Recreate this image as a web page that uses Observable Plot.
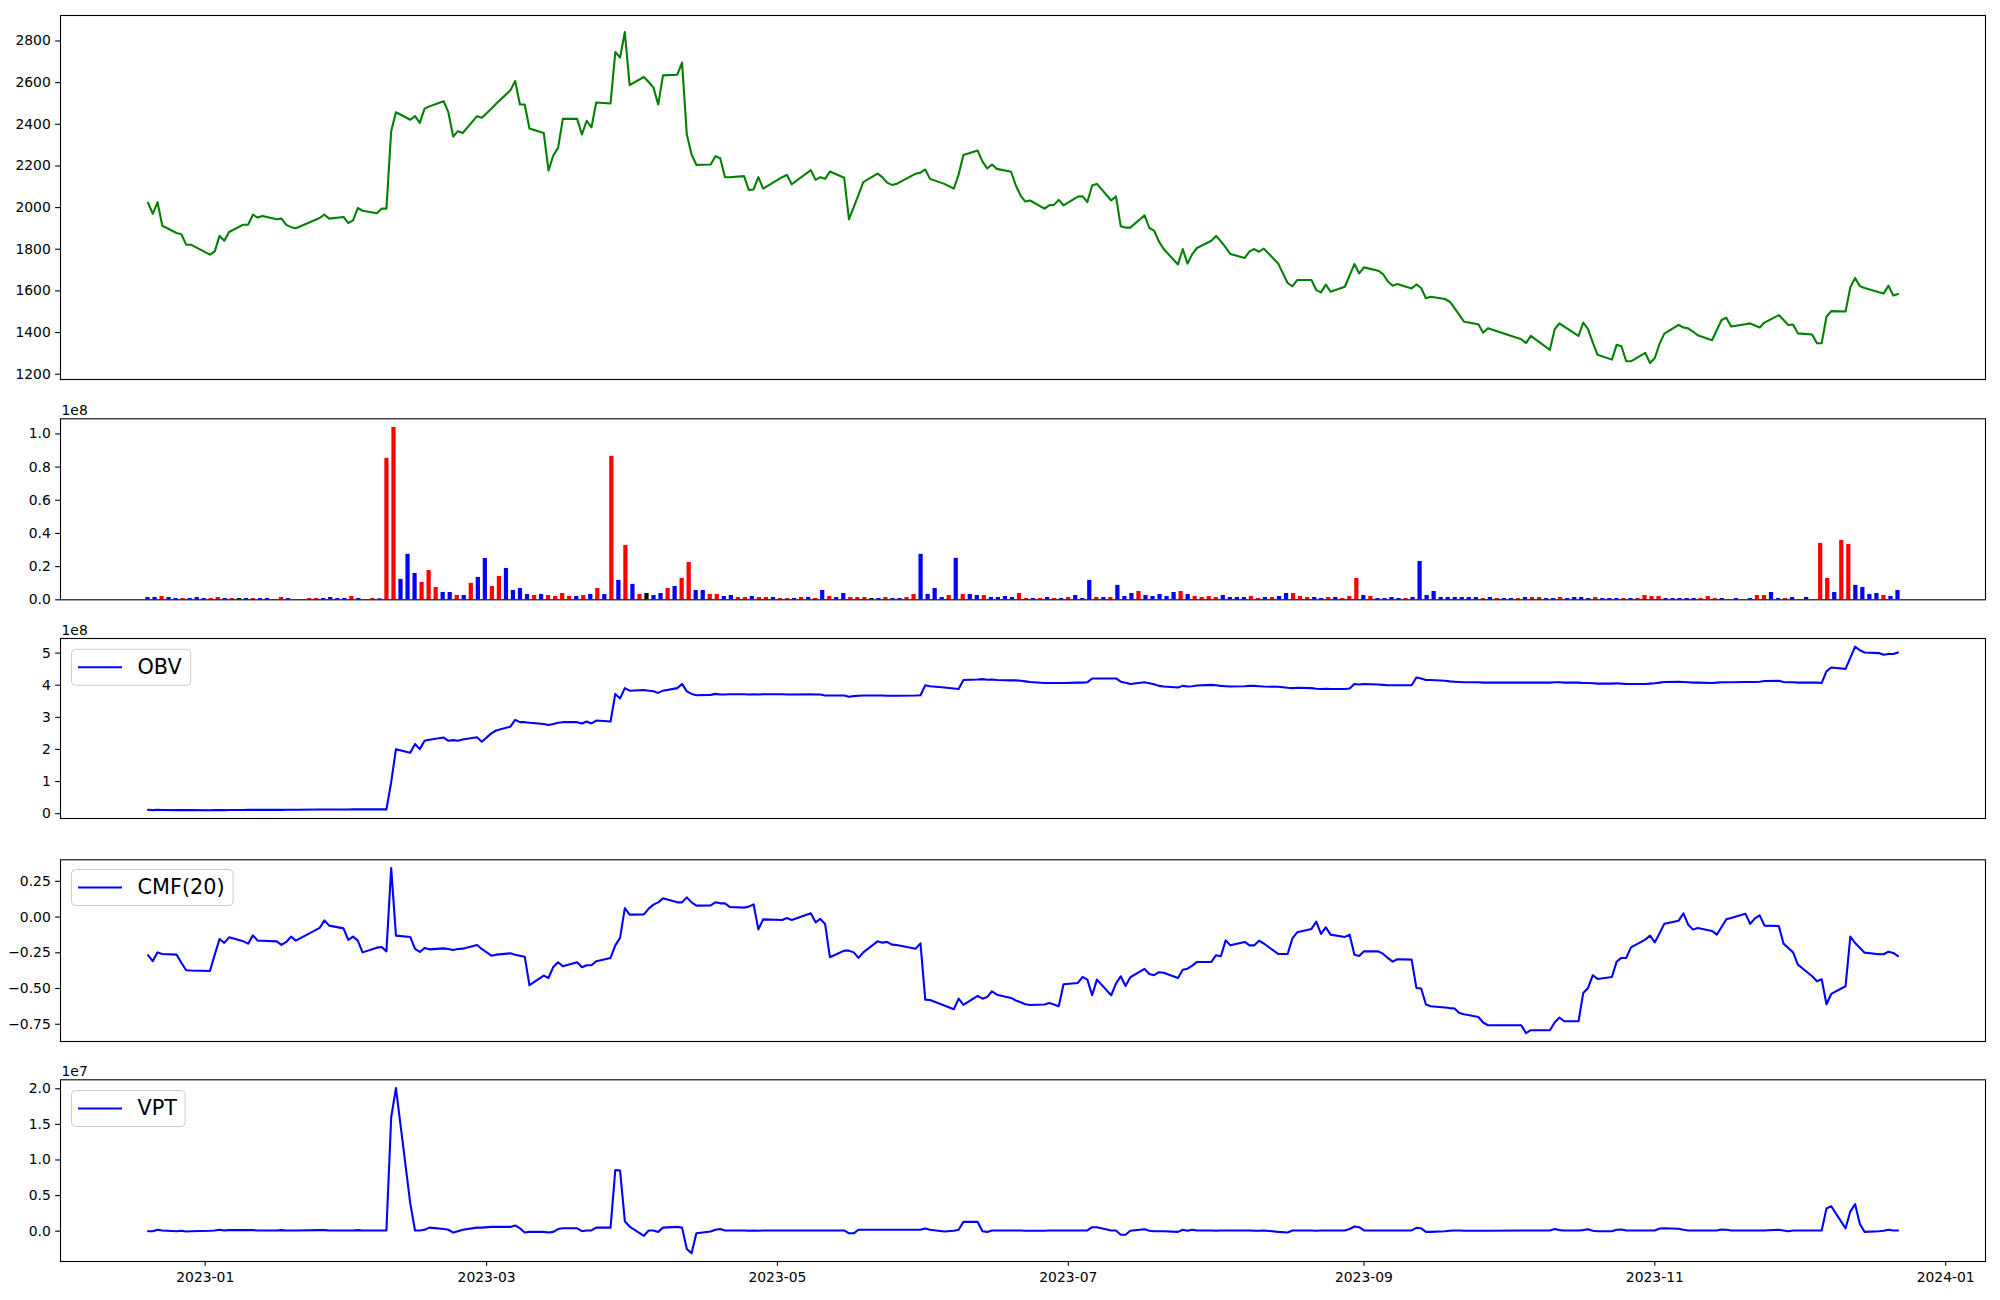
<!DOCTYPE html>
<html>
<head>
<meta charset="utf-8">
<script src="https://cdn.jsdelivr.net/npm/d3@7"></script>
<script src="https://cdn.jsdelivr.net/npm/@observablehq/plot@0.6"></script>
<style>
html, body { margin: 0; padding: 0; background: #ffffff; }
#fig { position: relative; width: 2000px; height: 1300px; overflow: hidden; background: #ffffff; font-family: "DejaVu Sans", sans-serif; }
</style>
</head>
<body>
<div id="fig"></div>
<script>
// ---------- DATA ----------
// Trading days (month, day numbers)
const tradingDays = [
  ["2022-12", [20,21,22,23,26,27,28,29]],
  ["2023-01", [2,3,4,5,6,9,10,11,12,13,16,17,18,19,20,25,26,27,30,31]],
  ["2023-02", [1,2,3,6,7,8,9,10,13,14,15,16,17,20,21,22,23,24,27,28]],
  ["2023-03", [2,3,6,7,8,9,10,13,14,15,16,17,20,21,22,23,24,27,28,29,30,31]],
  ["2023-04", [3,4,5,6,7,10,11,12,13,14,17,18,19,20,21,24,25,26,27,28]],
  ["2023-05", [2,3,4,8,9,10,11,12,15,16,17,18,19,22,23,24,25,26,30,31]],
  ["2023-06", [1,2,5,7,8,9,12,13,14,15,16,19,20,21,22,23,26,27,28,29,30]],
  ["2023-07", [3,4,5,6,7,10,11,12,13,14,17,18,19,20,21,24,25,26,27,28,31]],
  ["2023-08", [1,2,3,4,7,8,9,10,11,14,16,17,18,21,22,23,24,25,28,29,30,31]],
  ["2023-09", [1,4,5,6,7,8,11,12,13,14,15,18,19,20,21,22,25,26,27]],
  ["2023-10", [4,5,6,10,11,12,13,16,17,18,19,20,23,24,25,26,27,30,31]],
  ["2023-11", [1,2,3,6,7,8,9,10,13,14,15,16,17,20,21,22,23,24,27,28,29,30]],
  ["2023-12", [1,4,5,6,7,8,11,12,13,14,15,18,19,20,21,22]]
];

const price = [
2024,1970,2026,1913,1878,1872,1822,1822,
1774,1790,1864,1841,1883, 1918,1918,1966,1952,1960, 1944,1947,1917,1906,1901, 1950,1966,1947, 1955,1925,
1939,1998,1985, 1973,1995,1995,2367,2458, 2422,2439,2407,2475,2486, 2511,2457,2341,2367,2358, 2439,2431,
2475,2499, 2563,2608,2495,2495,2380, 2358,2178,2250,2287,2426, 2426,2351,2417,2385,2505, 2500,2747,2720,2843,2588,
2627,2603,2576,2495,2635, 2638,2696,2351,2255,2205, 2207,2247,2237,2146,2146, 2151,2085,2087,2146,2091,
2146,2157,2112, 2180,2133,2146,2138,2173, 2143,1944,2002,2061,2122, 2163,2146,2120,2109,2114, 2163,2168,
2183,2138, 2114,2091,2159,2253, 2274,2221,2188,2207,2186, 2172,2106,2058,2029,2034, 1995,2011,2013,2037,2011,
2053,2054,2027,2106,2114, 2034,2054,1910,1904,1904, 1963,1902,1889,1838,1801, 1727,1801,1731,1777,1806, 1841,
1864,1838,1809,1777, 1758,1790,1801,1788,1803, 1732,1638,1622,1652, 1652,1604,1593,1630,1596, 1620,1675,1729,1684,
1713, 1697,1681,1646,1625,1633, 1612,1631,1614,1565,1572, 1561,1548,1517,1485,1452, 1440,1399,1421,
1368,1349,1384, 1317,1416,1444,1429, 1384,1448,1416,1352,1293, 1270,1341,1334,1262,1262, 1302,1254,
1278,1347,1395, 1437,1424,1420,1405,1387, 1363,1412,1460,1471,1429, 1440,1444,1434,1424,1448, 1484,1460,1436,1439,
1396, 1391,1349,1349,1476,1503, 1501,1617,1662,1623,1614, 1593,1588,1625,1578,1585
];

// Volume in millions of shares
const volume = [
1.4,1.4,2.0,1.4,0.8,0.8,0.8,1.4,
0.8,0.8,1.4,0.8,0.8, 0.8,0.8,0.8,0.8,0.8, 0.1,1.4,0.8,0.1,0.1, 0.8,0.8,0.8, 1.4,0.8,
0.8,2.0,0.8, 0.1,0.8,0.6,85.3,103.9, 12.3,27.4,15.9,10.5,17.7, 7.4,4.4,4.4,2.6,2.6, 9.9,13.5,
24.9,8.0, 14.1,18.9,5.6,6.8,3.2, 2.6,3.2,2.6,2.0,3.8, 2.0,2.0,2.6,3.2,6.8, 3.2,86.5,11.7,32.8,9.3,
3.2,3.8,2.6,3.8,6.8, 8.0,12.9,22.5,5.6,5.6, 3.2,3.2,2.0,2.6,1.4, 1.4,2.0,1.4,1.4,1.4,
0.8,0.8,0.8, 1.4,1.4,0.8,5.6,2.0, 1.4,3.8,1.4,1.4,1.4, 0.8,0.8,1.4,0.8,0.8, 1.4,3.2,
27.4,3.2, 6.8,1.4,2.6,25.0, 3.2,3.2,2.6,2.6,1.4, 1.4,2.0,1.4,3.8,0.8, 0.8,0.8,1.4,0.8,0.8,
1.4,2.6,0.8,11.7,1.4, 1.4,1.4,8.7,2.0,3.8, 5.0,2.6,2.0,3.2,2.0, 4.4,5.0,3.2,2.0,1.4, 2.0,
1.4,2.6,1.4,1.4, 1.4,2.0,0.8,1.4,1.4, 2.0,3.8,3.8,2.0, 1.4,1.4,0.8,1.4,1.4, 0.8,2.0,12.9,2.6,
2.0, 0.8,0.8,1.4,0.8,0.8, 1.4,23.1,2.6,5.0,1.4, 1.4,1.4,1.4,1.4,1.4, 0.8,1.4,0.8,
0.8,0.8,0.8, 1.4,1.4,1.4,0.8, 0.8,1.4,0.8,1.4,1.4, 0.8,1.4,0.8,0.8,0.8, 0.8,0.8,
0.8,2.6,2.0, 2.0,0.8,0.8,0.8,0.8, 0.8,0.8,2.0,0.8,0.8, 0.1,0.8,0.1,0.8,2.6, 2.6,4.4,0.8,0.8,
1.4, 0.1,1.4,0.1,34.0,12.9, 4.4,35.8,33.4,8.7,7.4, 3.2,3.8,2.6,2.0,5.6
];

// Bar direction: R = up, B = down, K = unchanged
const volumeDir = (
"BBRBBRBBBR" + "RBRKBRBBBR" + "BBBRRBBBBR" + "BBRBRRBBBR" + "RRBBRBRBBR" +
"RBBBBRBRRR" + "RBRBRBRBRB" + "RKBBRBRRBB" + "RRBBRRBRRB" + "RRBRBRBRBB" +
"RRRKBRBBRR" + "BBBBRBRBBR" + "BBBBRRBRBR" + "BRBBBRBRBB" + "BRBBBBBRBR" +
"RRRBBBBRRB" + "RBBRRRBBRB" + "RRRBRBBBBR" + "BBBBBBBBBB" + "RBRBBRBRRB" +
"BRBBBBRBBB" + "RBRRRRBBBB" + "BRRRBBBBBR" + "RBBRBBBBRR" + "BRRBBBBRBB"
).split("");

// OBV in units of 1e8
const obv = [
0.12,0.11,0.12,0.115,0.11,0.11,0.11,0.11,
0.105,0.11,0.11,0.11,0.115, 0.115,0.12,0.12,0.12,0.12, 0.12,0.12,0.125,0.125,0.125, 0.13,0.13,0.13, 0.13,0.13,
0.135,0.14,0.135, 0.135,0.135,0.135,0.98,2.01, 1.90,2.17,2.01,2.27,2.30, 2.37,2.27,2.29,2.27,2.31, 2.38,2.24,
2.50,2.59, 2.71,2.92,2.85,2.85,2.83, 2.79,2.76,2.79,2.83,2.85, 2.85,2.81,2.87,2.81,2.90, 2.87,3.73,3.59,3.91,3.83,
3.85,3.83,3.81,3.76,3.83, 3.91,4.04,3.81,3.73,3.69, 3.70,3.73,3.71,3.71,3.72, 3.72,3.71,3.72,3.71,3.72,
3.72,3.71,3.71, 3.72,3.71,3.71,3.68,3.68, 3.68,3.64,3.66,3.67,3.68, 3.68,3.68,3.67,3.67,3.67, 3.68,3.69,
4.00,3.97, 3.93,3.90,3.88,4.16, 4.18,4.19,4.17,4.18,4.16, 4.15,4.15,4.14,4.12,4.10, 4.07,4.07,4.07,4.07,4.07,
4.08,4.08,4.09,4.21,4.21, 4.21,4.21,4.11,4.08,4.04, 4.09,4.06,4.03,3.98,3.96, 3.93,3.98,3.96,3.97,3.99, 4.01,
4.00,3.98,3.97,3.96, 3.97,3.98,3.98,3.97,3.96, 3.95,3.92,3.91,3.92, 3.91,3.89,3.88,3.89,3.88, 3.88,3.90,4.04,4.02,
4.04, 4.02,4.01,4.00,4.00,4.00, 4.00,4.24,4.21,4.16,4.16, 4.14,4.12,4.11,4.10,4.09, 4.09,4.08,4.08,
4.08,4.08,4.08, 4.08,4.09,4.09,4.08, 4.08,4.07,4.07,4.06,4.05, 4.05,4.06,4.05,4.04,4.04, 4.04,4.05,
4.06,4.08,4.10, 4.11,4.10,4.09,4.08,4.08, 4.07,4.08,4.09,4.09,4.09, 4.10,4.10,4.10,4.11,4.13, 4.14,4.10,4.09,4.09,
4.08, 4.08,4.08,4.07,4.43,4.55, 4.51,4.85,5.20,5.09,5.02, 5.00,4.95,4.97,4.97,5.02
];

const cmf = [
-0.267,-0.309,-0.247,-0.258,-0.263,-0.32,-0.372,-0.374,
-0.377,-0.263,-0.153,-0.181,-0.142, -0.17,-0.186,-0.128,-0.165,-0.166, -0.17,-0.195,-0.174,-0.137,-0.165, -0.076,-0.023,-0.06, -0.079,-0.16,
-0.137,-0.165,-0.247, -0.214,-0.209,-0.24,0.343,-0.13, -0.139,-0.223,-0.244,-0.216,-0.226, -0.219,-0.223,-0.23,-0.223,-0.221, -0.195,-0.223,
-0.27,-0.263, -0.254,-0.263,-0.27,-0.277,-0.477, -0.41,-0.426,-0.349,-0.316,-0.344, -0.316,-0.351,-0.337,-0.337,-0.309, -0.286,-0.198,-0.146,0.063,0.017,
0.019,0.059,0.087,0.103,0.131, 0.103,0.103,0.138,0.103,0.08, 0.082,0.103,0.096,0.096,0.071, 0.066,0.073,0.089,-0.086,-0.016,
-0.02,-0.006,-0.02, 0.026,-0.037,-0.013,-0.048,-0.281, -0.235,-0.235,-0.247,-0.286,-0.247, -0.17,-0.179,-0.174,-0.193,-0.196, -0.221,-0.184,
-0.578,-0.58, -0.619,-0.645,-0.571,-0.615, -0.552,-0.571,-0.559,-0.519,-0.543, -0.566,-0.584,-0.596,-0.61,-0.615, -0.612,-0.601,-0.612,-0.624,-0.47,
-0.461,-0.419,-0.438,-0.547,-0.438, -0.547,-0.466,-0.414,-0.482,-0.421, -0.363,-0.398,-0.407,-0.386,-0.39, -0.426,-0.368,-0.361,-0.34,-0.314, -0.314,
-0.267,-0.274,-0.163,-0.198, -0.174,-0.198,-0.198,-0.165,-0.185, -0.258,-0.258,-0.149,-0.107, -0.083,-0.032,-0.118,-0.072,-0.123, -0.139,-0.123,-0.263,-0.272,
-0.24, -0.24,-0.256,-0.286,-0.312,-0.295, -0.298,-0.496,-0.5,-0.612,-0.624, -0.633,-0.637,-0.64,-0.672,-0.68, -0.699,-0.738,-0.757,
-0.757,-0.813,-0.792, -0.792,-0.738,-0.703,-0.729, -0.729,-0.531,-0.496,-0.407,-0.433, -0.419,-0.312,-0.286,-0.286,-0.212, -0.158,-0.13,
-0.177,-0.114,-0.046, -0.025,0.026,-0.053,-0.088,-0.076, -0.097,-0.123,-0.069,-0.016,-0.006, 0.024,-0.048,-0.009,0.012,-0.06, -0.062,-0.186,-0.216,-0.247,
-0.333, -0.414,-0.449,-0.435,-0.61,-0.538, -0.484,-0.137,-0.181,-0.215,-0.249, -0.26,-0.26,-0.242,-0.251,-0.274
];

// VPT in units of 1e7
const vpt = [
0,0,0.02,0.01,0,0.005,-0.005,0,
0.005,0.01,0.02,0.01,0.015, 0.015,0.015,0.015,0.01,0.01, 0.01,0.015,0.01,0.01,0.01, 0.015,0.015,0.01, 0.01,0.01,
0.01,0.015,0.01, 0.01,0.01,0.01,1.60,2.01, 0.39,0.01,0.01,0.02,0.05, 0.03,0.02,-0.02,0,0.02, 0.05,0.05,
0.06,0.06, 0.06,0.08,0.04,-0.02,-0.01, -0.01,-0.02,-0.01,0.03,0.04, 0.04,0,0.01,0.01,0.05, 0.05,0.86,0.85,0.14,0.065,
-0.065,0.01,0.01,-0.01,0.05, 0.06,0.05,-0.25,-0.31,-0.03, -0.005,0.02,0.03,0.01,0.01, 0.01,0.005,0.01,0.005,0.01,
0.01,0.01,0.01, 0.01,0.01,0.01,0.01,0.01, 0.01,-0.03,-0.03,0.02,0.02, 0.02,0.02,0.02,0.02,0.02, 0.02,0.02,
0.037,0.02, -0.005,0.005,0.02,0.13, 0.13,0,-0.01,0.01,0.01, 0.01,0.01,0.01,0.005,0.005, 0.005,0.01,0.01,0.01,0.01,
0.01,0.01,0.01,0.056,0.056, 0.01,0.01,-0.05,-0.05,0.005, 0.028,0.005,0,0,0, -0.01,0.02,0.005,0.02,0.01, 0.01,
0.005,0.01,0.01,0.01, 0.01,0.01,0.005,0.005,0.01, -0.01,-0.019,0.01,0.01, 0.01,0.005,0.01,0.01,0.01, 0.01,0.03,0.065,0.056,
0.01, 0.01,0.01,0.01,0.01,0.01, 0.01,0.047,0.04,-0.01,-0.01, 0,0.005,0.01,0.01,0.005, 0.005,0.005,0.005,
0.01,0.01,0.01, 0.01,0.03,0.015,0.01, 0.01,0.015,0.028,0.005,0, 0,0.02,0.023,0.01,0.01, 0.01,0.01,
0.01,0.037,0.042, 0.033,0.02,0.01,0.01,0.01, 0.01,0.01,0.023,0.019,0.01, 0.01,0.01,0.01,0.01,0.01, 0.019,0.01,0,0.01,
0.01, 0.01,0.01,0.01,0.32,0.35, 0.04,0.275,0.38,0.10,-0.01, 0,0.005,0.02,0.01,0.01
];

const priceTicks = [1200, 1400, 1600, 1800, 2000, 2200, 2400, 2600, 2800];
const volumeTicks = [0, 0.2, 0.4, 0.6, 0.8, 1.0];
const obvTicks = [0, 1, 2, 3, 4, 5];
const cmfTicks = [-0.75, -0.5, -0.25, 0, 0.25];
const vptTicks = [0, 0.5, 1.0, 1.5, 2.0];
const dateTicks = ["2023-01-01", "2023-03-01", "2023-05-01", "2023-07-01", "2023-09-01", "2023-11-01", "2024-01-01"];
const legendLabels = ["OBV", "CMF(20)", "VPT"];
const dirColors = {R: "#ff0000", B: "#0000ff", K: "#000000"};

// ---------- BUILD ----------
const dates = tradingDays.flatMap(([m, ds]) => ds.map(d => new Date(`${m}-${String(d).padStart(2, "0")}T00:00:00Z`)));
const n = dates.length;
const rows = dates.map((date, i) => ({
  i, date, price: price[i], vol: volume[i] / 100, dir: volumeDir[i],
  obv: obv[i], cmf: cmf[i], vpt: vpt[i]
}));

const span = dates[n - 1] - dates[0];
const xDomain = [new Date(+dates[0] - 0.05 * span), new Date(+dates[n - 1] + 0.05 * span)];
const iPad = 0.05 * (n - 1);
const iDomain = [-iPad, n - 1 + iPad];
const padExt = (vals) => { const [a, b] = d3.extent(vals); const r = b - a; return [a - 0.05 * r, b + 0.05 * r]; };

const W = 2000, ML = 60, MR = 15, TS = 4.86;
const style = {fontFamily: '"DejaVu Sans", sans-serif', fontSize: "13.9px", background: "transparent", color: "#000", overflow: "visible"};
const minus = (s) => s.replace("-", "\u2212");
const fig = document.getElementById("fig");

function place(svg, top) {
  svg.style.position = "absolute";
  svg.style.left = "0px";
  svg.style.top = top + "px";
  fig.appendChild(svg);
}
function yAxis(ticks, fmt) {
  return Plot.axisY({ticks, tickFormat: fmt, tickSize: TS, tickPadding: TS, label: null, strokeWidth: 1.1});
}
function offsetText(t) {
  return Plot.text([t], {text: d => d, frameAnchor: "top-left", textAnchor: "start", lineAnchor: "bottom", dx: 1, dy: -4, fontSize: 13.9, fill: "#000"});
}
const frame = () => Plot.frame({stroke: "#000", strokeWidth: 1.1});

// Panel 1: price
place(Plot.plot({
  width: W, height: 400, marginLeft: ML, marginRight: MR, marginTop: 15, marginBottom: 21, style,
  x: {type: "utc", domain: xDomain, axis: null},
  y: {domain: padExt(price), axis: null},
  marks: [
    yAxis(priceTicks, d => String(d)),
    Plot.line(rows, {x: "date", y: "price", stroke: "#008000", strokeWidth: 2.08}),
    frame()
  ]
}), 0);

// Panel 2: volume bars
place(Plot.plot({
  width: W, height: 220, marginLeft: ML, marginRight: MR, marginTop: 18.3, marginBottom: 20.7, style,
  x: {type: "linear", domain: iDomain, axis: null},
  y: {domain: [0, d3.max(rows, d => d.vol) * 1.05], axis: null},
  color: {type: "identity"},
  marks: [
    yAxis(volumeTicks, d => d.toFixed(1)),
    Plot.rect(rows, {x1: d => d.i - 0.3, x2: d => d.i + 0.3, y1: 0, y2: "vol", fill: d => dirColors[d.dir]}),
    offsetText("1e8"),
    frame()
  ]
}), 400);

// Panel 3: OBV
place(Plot.plot({
  width: W, height: 220, marginLeft: ML, marginRight: MR, marginTop: 18, marginBottom: 22, style,
  x: {type: "utc", domain: xDomain, axis: null},
  y: {domain: padExt(obv), axis: null},
  marks: [
    yAxis(obvTicks, d => String(d)),
    Plot.line(rows, {x: "date", y: "obv", stroke: "#0000ff", strokeWidth: 2.08}),
    offsetText("1e8"),
    frame()
  ]
}), 620);

// Panel 4: CMF(20)
place(Plot.plot({
  width: W, height: 220, marginLeft: ML, marginRight: MR, marginTop: 19.3, marginBottom: 19, style,
  x: {type: "utc", domain: xDomain, axis: null},
  y: {domain: padExt(cmf), axis: null},
  marks: [
    yAxis(cmfTicks, d => minus(d.toFixed(2))),
    Plot.line(rows, {x: "date", y: "cmf", stroke: "#0000ff", strokeWidth: 2.08}),
    frame()
  ]
}), 840);

// Panel 5: VPT with date axis
place(Plot.plot({
  width: W, height: 240, marginLeft: ML, marginRight: MR, marginTop: 19.3, marginBottom: 39, style,
  x: {type: "utc", domain: xDomain, axis: null},
  y: {domain: padExt(vpt), axis: null},
  marks: [
    yAxis(vptTicks, d => minus(d.toFixed(1))),
    Plot.axisX({ticks: dateTicks.map(s => new Date(s + "T00:00:00Z")), tickFormat: d3.utcFormat("%Y-%m"), tickSize: TS, tickPadding: TS + 1, label: null, strokeWidth: 1.1}),
    Plot.line(rows, {x: "date", y: "vpt", stroke: "#0000ff", strokeWidth: 2.08}),
    offsetText("1e7"),
    frame()
  ]
}), 1060);

// Legends (upper-left of OBV, CMF, VPT panels)
const legendTops = [649.3, 869.5, 1090.5];
const legendWidths = [119.2, 161.6, 113.6];
const ov = d3.create("svg").attr("width", 2000).attr("height", 1300)
  .style("position", "absolute").style("left", "0px").style("top", "0px").style("pointer-events", "none");
legendLabels.forEach((label, k) => {
  const top = legendTops[k];
  const g = ov.append("g");
  g.append("rect").attr("x", 71.5).attr("y", top).attr("width", legendWidths[k]).attr("height", 36)
    .attr("rx", 4).attr("fill", "#ffffff").attr("fill-opacity", 0.8).attr("stroke", "#cccccc").attr("stroke-width", 1);
  g.append("line").attr("x1", 78).attr("x2", 122).attr("y1", top + 18).attr("y2", top + 18)
    .attr("stroke", "#0000ff").attr("stroke-width", 2.08);
  g.append("text").attr("x", 137.5).attr("y", top + 24.5)
    .attr("font-family", '"DejaVu Sans", sans-serif').attr("font-size", 20.8).attr("fill", "#000").text(label);
});
fig.appendChild(ov.node());
</script>
</body>
</html>
